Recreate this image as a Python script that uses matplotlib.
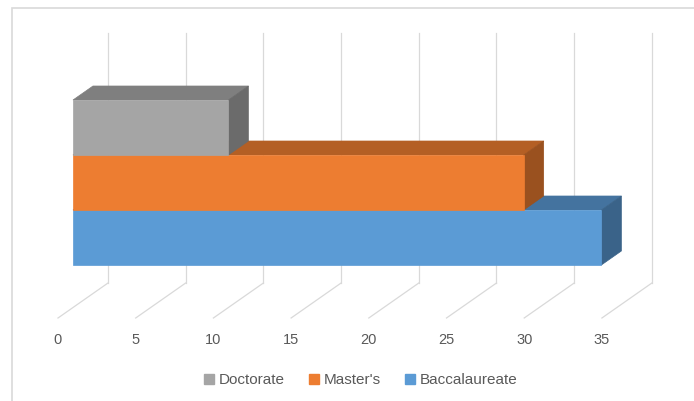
import matplotlib.pyplot as plt
from matplotlib.patches import Polygon, Rectangle
from matplotlib.lines import Line2D

plt.rcParams['font.family'] = ['Liberation Sans', 'DejaVu Sans']

degrees = ['Baccalaureate', "Master's", 'Doctorate']
counts = [34, 29, 10]
front_colors = ['#5b9bd5', '#ed7d31', '#a5a5a5']
top_colors = ['#44739f', '#b45f24', '#7f7f7f']
side_colors = ['#3a6389', '#9a511f', '#6b6b6b']
value_ticks = [0, 5, 10, 15, 20, 25, 30, 35]

# oblique projection: depth f goes from 0 (back wall) to 1 (front edge of floor)
DX = -50 / 15.54   # horizontal shift per unit depth, in value units
DY = -35 / 250     # vertical shift per unit depth, in category-height units


def proj(v, h, f):
    return (v + DX * f, h + DY * f)


fig = plt.figure(figsize=(6.94, 4.01), dpi=100)
ax = fig.add_axes([0, 0, 1, 1])
ax.set_xlim(-108 / 15.54, (694 - 108) / 15.54)
ax.set_ylim((283 - 401) / 250, 283 / 250)
ax.axis('off')

grid_c = '#d9d9d9'
for t in value_ticks:
    # back wall gridline
    (x0, y0), (x1, y1) = proj(t, 0, 0), proj(t, 1, 0)
    ax.plot([x0, x1], [y0, y1], color=grid_c, lw=0.9, zorder=1)
    # floor gridline
    (x2, y2) = proj(t, 0, 1)
    ax.plot([x0, x2], [y0, y2], color=grid_c, lw=0.9, zorder=1)
    ax.annotate(str(t), (x2, y2), xytext=(0, -16), textcoords='offset points',
                ha='center', va='center', fontsize=10.5, color='#595959')

# bars: front face at depth 0.7, back face at 0.3
f_front, f_back = 0.7, 0.3
bottom, bar_h = 0.17, 0.22
for i, (val, fc, tc, sc) in enumerate(zip(counts, front_colors, top_colors, side_colors)):
    h0 = bottom + i * bar_h
    h1 = h0 + bar_h
    z = 3 + i
    front = [proj(0, h0, f_front), proj(val, h0, f_front),
             proj(val, h1, f_front), proj(0, h1, f_front)]
    top = [proj(0, h1, f_front), proj(val, h1, f_front),
           proj(val, h1, f_back), proj(0, h1, f_back)]
    side = [proj(val, h0, f_front), proj(val, h0, f_back),
            proj(val, h1, f_back), proj(val, h1, f_front)]
    ax.add_patch(Polygon(top, closed=True, facecolor=tc, edgecolor=tc, lw=0.5, zorder=z))
    ax.add_patch(Polygon(side, closed=True, facecolor=sc, edgecolor=sc, lw=0.5, zorder=z))
    ax.add_patch(Polygon(front, closed=True, facecolor=fc, edgecolor=fc, lw=0.5, zorder=z))

handles = [Line2D([], [], marker='s', ls='', markersize=6.5, color=c)
           for c in front_colors[::-1]]
fig.legend(handles, degrees[::-1], loc='center', bbox_to_anchor=(0.518, 0.052),
           ncol=3, frameon=False, fontsize=11, labelcolor='#595959',
           handletextpad=0.2, columnspacing=1.45, handlelength=0.9)

# chart area border
fig.patches.append(Rectangle((12 / 694, -0.1), 1.0, 1.1 - 8 / 401,
                             transform=fig.transFigure, fill=False,
                             edgecolor='#d9d9d9', lw=1.2))

fig.savefig('out.png', dpi=100)
